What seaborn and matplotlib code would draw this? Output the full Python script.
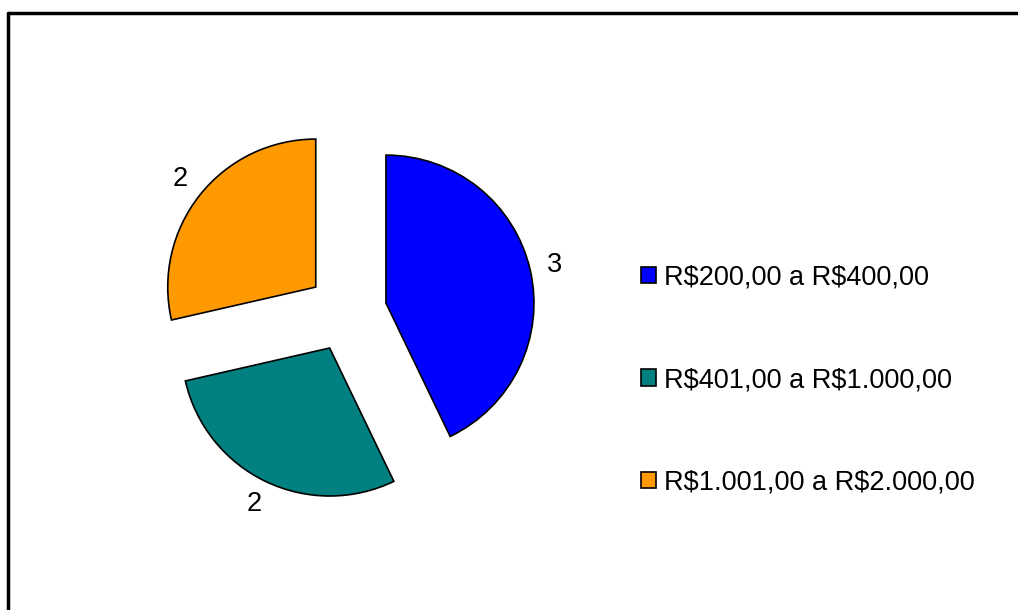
import seaborn as sns
import matplotlib
matplotlib.use("Agg")
import matplotlib.pyplot as plt
from matplotlib.lines import Line2D

# Data
categories = ["R$200,00 a R$400,00", "R$401,00 a R$1.000,00", "R$1.001,00 a R$2.000,00"]
counts = [3, 2, 2]
colors = ["#0000FF", "#008080", "#FF9900"]

sns.set_theme(style="white")
plt.rcParams['font.family'] = ['Liberation Sans', 'DejaVu Sans']
plt.rcParams['text.parse_math'] = False
plt.rcParams['text.color'] = 'black'

W, H = 1018, 610
fig = plt.figure(figsize=(W / 100, H / 100), dpi=100)
fig.patch.set_facecolor("white")

# pie geometry in pixels: center and radius
cx, cy, r = 347, 312, 148
left_px, right_px = cx - 300, cx + 300
top_px, bot_px = cy - 280, cy + 280
ax = fig.add_axes([left_px / W, 1 - bot_px / H, (right_px - left_px) / W, (bot_px - top_px) / H])

wedges, texts = ax.pie(
    counts,
    labels=[str(c) for c in counts],
    colors=colors,
    startangle=90,
    counterclock=False,
    explode=[0.27] * len(counts),
    labeldistance=1.17,
    wedgeprops=dict(edgecolor="black", linewidth=1.2),
    textprops=dict(fontsize=19.5, color="black"),
)
for t in texts:
    t.set_ha("center")
    t.set_va("center")

ax.set_aspect("auto")
ax.set_xlim(-300 / r, 300 / r)
ax.set_ylim(-280 / r, 280 / r)
ax.axis("off")

leg = fig.legend(
    wedges, categories,
    loc="center left",
    bbox_to_anchor=(641 / W, 1 - 380 / H),
    frameon=False,
    fontsize=19.5,
    handlelength=0.55,
    handleheight=0.55,
    handletextpad=0.3,
    labelspacing=2.82,
    borderpad=0,
    borderaxespad=0,
)
for t in leg.get_texts():
    t.set_color("black")

# outer chart border (left and top edges visible)
bx, by = 8 / W, 1 - 13 / H
fig.add_artist(Line2D([bx, bx], [by, -0.1], transform=fig.transFigure, color="black", lw=2.5))
fig.add_artist(Line2D([bx, 1.1], [by, by], transform=fig.transFigure, color="black", lw=2.5))

fig.savefig("out.png", dpi=100, facecolor="white")
